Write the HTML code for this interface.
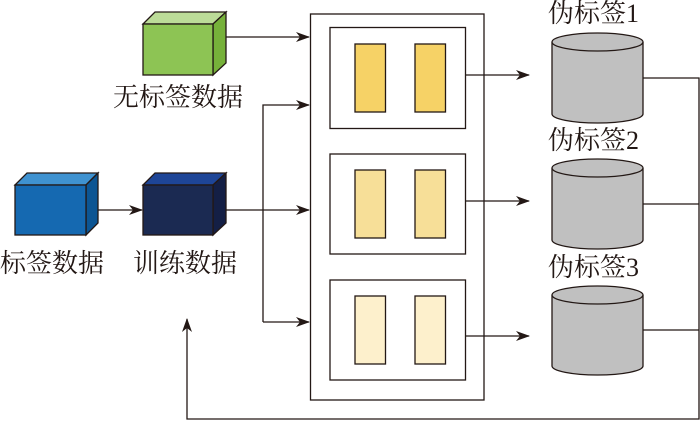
<!DOCTYPE html>
<html><head><meta charset="utf-8"><style>body{margin:0;background:#fff}svg{display:block}text{font-family:"Liberation Serif","Noto Serif CJK SC",serif;fill:#231815}</style></head><body>
<svg width="700" height="421" viewBox="0 0 700 421" xmlns="http://www.w3.org/2000/svg">
<defs><marker id="a" markerWidth="14" markerHeight="10" refX="13" refY="5" orient="auto" markerUnits="userSpaceOnUse"><path d="M0,0 L14,5 L0,10 L4,5z" fill="#231815"/></marker></defs>
<g stroke="#231815" stroke-width="1.3">
<polygon points="143,24 155,12 226,12 213,24" fill="#bcdc98"/>
<polygon points="213,24 226,12 226,63 213,75" fill="#76b13a"/>
<rect x="143" y="24" width="70" height="51" fill="#8dc454"/>
<polygon points="15,185 27,173 98,173 86,185" fill="#3f92d0"/>
<polygon points="86,185 98,173 98,223 86,235" fill="#0c5593"/>
<rect x="15" y="185" width="71" height="50" fill="#1569b1"/>
<polygon points="143,185 155,173 226,173 213,185" fill="#1e4597"/>
<polygon points="213,185 226,173 226,223 213,235" fill="#141f45"/>
<rect x="143" y="185" width="70" height="50" fill="#1b2a52"/>
<rect x="310.5" y="14" width="173.5" height="386" fill="none"/>
<rect x="330" y="27.5" width="135.5" height="101" fill="none"/>
<rect x="330" y="154" width="135.5" height="100" fill="none"/>
<rect x="330" y="280" width="135.5" height="100" fill="none"/>
<rect x="355" y="44" width="30.5" height="68" fill="#f6d266"/>
<rect x="415" y="44" width="30.5" height="68" fill="#f6d266"/>
<rect x="355" y="170" width="30.5" height="68" fill="#f7df98"/>
<rect x="415" y="170" width="30.5" height="68" fill="#f7df98"/>
<rect x="355" y="296" width="30.5" height="68" fill="#fdf0cc"/>
<rect x="415" y="296" width="30.5" height="68" fill="#fdf0cc"/>
<g fill="#c0c0c0">
<path d="M552,42 L552,114 A45.5,9 0 0 0 643,114 L643,42"/><ellipse cx="597.5" cy="42" rx="45.5" ry="9"/>
<path d="M552,168 L552,240 A45.5,9 0 0 0 643,240 L643,168"/><ellipse cx="597.5" cy="168" rx="45.5" ry="9"/>
<path d="M552,295 L552,366 A45.5,9 0 0 0 643,366 L643,295"/><ellipse cx="597.5" cy="295" rx="45.5" ry="9"/>
</g>
<g fill="none">
<line x1="226" y1="37" x2="309" y2="37" marker-end="url(#a)"/>
<line x1="98" y1="210" x2="142" y2="210" marker-end="url(#a)"/>
<line x1="226" y1="210" x2="309" y2="210" marker-end="url(#a)"/>
<polyline points="263,322 263,105 309,105" marker-end="url(#a)"/>
<line x1="263" y1="322" x2="309" y2="322" marker-end="url(#a)"/>
<line x1="465.5" y1="75" x2="529" y2="75" marker-end="url(#a)"/>
<line x1="465.5" y1="201" x2="529" y2="201" marker-end="url(#a)"/>
<line x1="465.5" y1="336" x2="529" y2="336" marker-end="url(#a)"/>
<polyline points="643,78 699,78 699,419 187,419 187,319" marker-end="url(#a)"/>
<line x1="643" y1="204" x2="699" y2="204"/>
<line x1="643" y1="330" x2="699" y2="330"/>
</g>
</g>
<g font-size="26">
<text x="113" y="106">无标签数据</text>
<text x="0" y="272">标签数据</text>
<text x="133" y="272">训练数据</text>
<text x="548" y="22">伪标签1</text>
<text x="548" y="149">伪标签2</text>
<text x="548" y="276">伪标签3</text>
</g>
</svg>
</body></html>
